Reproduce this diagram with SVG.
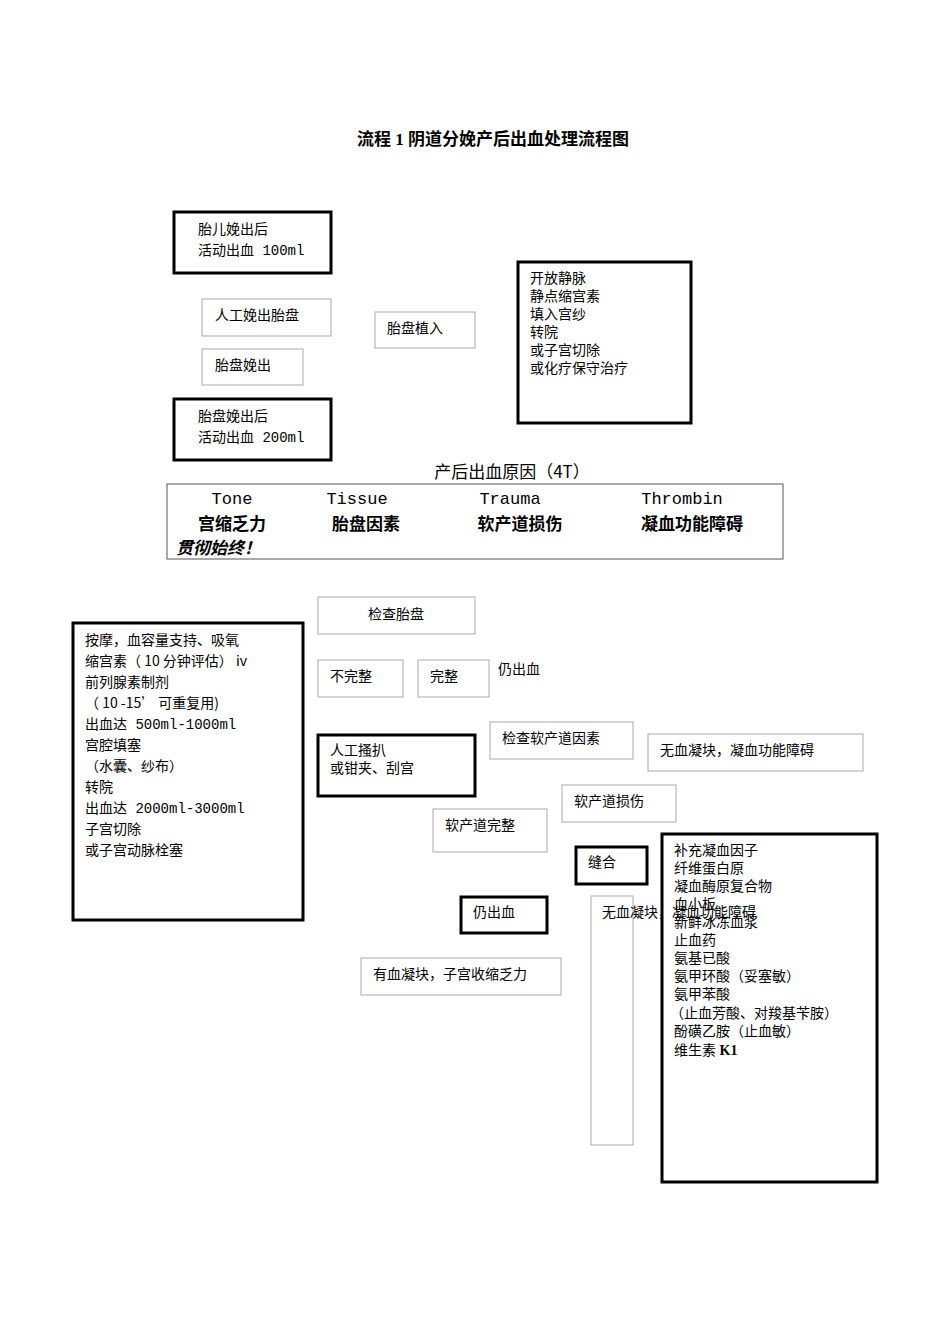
<svg xmlns="http://www.w3.org/2000/svg" width="950" height="1344" viewBox="0 0 950 1344">
<style>
text{font-family:"Liberation Serif","Noto Sans CJK SC",serif;font-size:14px;fill:#000}
.m{font-family:"Liberation Mono","Noto Sans CJK SC",monospace;font-size:14px}
.s{font-family:"Noto Sans CJK SC",sans-serif;font-size:14px}
.b{font-family:"Noto Sans CJK SC",sans-serif;font-size:17px;font-weight:bold}
.t{fill:#fff;stroke:#aaa;stroke-width:1}
.k{fill:#fff;stroke:#000;stroke-width:3}
</style>
<rect width="950" height="1344" fill="#fff"/>
<text x="493" y="145" text-anchor="middle" style="font-size:17px;font-weight:bold">流程 1 阴道分娩产后出血处理流程图</text>
<g id="connectors"></g>
<g id="n1"><rect class="k" x="174" y="212" width="157" height="61"/><text x="198" y="234">胎儿娩出后</text><text x="198" y="255" class="m">活动出血 100ml</text></g>
<g id="n2"><rect class="t" x="202" y="299" width="129" height="37"/><text x="215" y="320">人工娩出胎盘</text></g>
<g id="n3"><rect class="t" x="202" y="349" width="101" height="36"/><text x="215" y="370">胎盘娩出</text></g>
<g id="n4"><rect class="k" x="174" y="399" width="157" height="61"/><text x="198" y="421">胎盘娩出后</text><text x="198" y="442" class="m">活动出血 200ml</text></g>
<g id="n5"><rect class="t" x="375" y="312" width="100" height="36"/><text x="387" y="333">胎盘植入</text></g>
<g id="n6"><rect class="k" x="518" y="262" width="173" height="161"/>
<text x="530" y="283">开放静脉</text><text x="530" y="301">静点缩宫素</text><text x="530" y="319">填入宫纱</text><text x="530" y="337">转院</text><text x="530" y="355">或子宫切除</text><text x="530" y="373">或化疗保守治疗</text></g>
<g id="n7"><text x="512" y="478" text-anchor="middle" class="s" style="font-size:17px">产后出血原因（4T）</text>
<rect x="167" y="484" width="616" height="75" fill="#fff" stroke="#555"/>
<text x="232" y="504" text-anchor="middle" class="m" style="font-size:17px">Tone</text><text x="357" y="504" text-anchor="middle" class="m" style="font-size:17px">Tissue</text><text x="510" y="504" text-anchor="middle" class="m" style="font-size:17px">Trauma</text><text x="682" y="504" text-anchor="middle" class="m" style="font-size:17px">Thrombin</text>
<text x="232" y="530" text-anchor="middle" class="b">宫缩乏力</text><text x="366" y="530" text-anchor="middle" class="b">胎盘因素</text><text x="520" y="530" text-anchor="middle" class="b">软产道损伤</text><text x="692" y="530" text-anchor="middle" class="b">凝血功能障碍</text>
<text x="176" y="554" class="b" style="font-style:italic">贯彻始终！</text></g>
<g id="n8"><rect class="k" x="73" y="623" width="230" height="297"/>
<text x="85" y="645" class="s">按摩，血容量支持、吸氧</text><text x="85" y="666" class="s">缩宫素（ 10 分钟评估）  iv</text><text x="85" y="687" class="s">前列腺素制剂</text><text x="85" y="708" class="s"> （ 10 -15’ 可重复用)</text><text x="85" y="729" class="m">出血达 500ml-1000ml</text><text x="85" y="750" class="s">宫腔填塞</text><text x="85" y="771" class="s"> （水囊、纱布）</text><text x="85" y="792" class="s">转院</text><text x="85" y="813" class="m">  出血达 2000ml-3000ml</text><text x="85" y="834" class="s">子宫切除</text><text x="85" y="855" class="s">或子宫动脉栓塞</text></g>
<g id="n9"><rect class="t" x="318" y="597" width="157" height="37"/><text x="396" y="619" text-anchor="middle">检查胎盘</text></g>
<g id="n10"><rect class="t" x="318" y="660" width="85" height="37"/><text x="330" y="681">不完整</text></g>
<g id="n11"><rect class="t" x="418" y="660" width="71" height="37"/><text x="430" y="681">完整</text></g>
<text x="498" y="674">仍出血</text>
<g id="n12"><rect class="k" x="318" y="735" width="157" height="61"/><text x="330" y="755">人工搔扒</text><text x="330" y="773">或钳夹、刮宫</text></g>
<g id="n13"><rect class="t" x="490" y="722" width="143" height="37"/><text x="502" y="743">检查软产道因素</text></g>
<g id="n14"><rect class="t" x="648" y="734" width="215" height="37"/><text x="660" y="755">无血凝块，凝血功能障碍</text></g>
<g id="n15"><rect class="t" x="562" y="785" width="114" height="37"/><text x="574" y="806">软产道损伤</text></g>
<g id="n16"><rect class="t" x="433" y="809" width="114" height="43"/><text x="445" y="830">软产道完整</text></g>
<g id="n17"><rect class="k" x="576" y="847" width="71" height="37"/><text x="588" y="867">缝合</text></g>
<g id="n18"><rect class="k" x="461" y="897" width="86" height="36"/><text x="473" y="917">仍出血</text></g>
<g id="n19"><rect class="t" x="591" y="896" width="42" height="249"/></g>
<g id="n20"><rect class="k" x="662" y="834" width="215" height="348"/>
<text x="674" y="855">补充凝血因子</text><text x="674" y="873">纤维蛋白原</text><text x="674" y="891">凝血酶原复合物</text><text x="674" y="909">血小板</text><text x="674" y="927">新鲜冰冻血浆</text><text x="674" y="945">止血药</text><text x="674" y="963">氨基已酸</text><text x="674" y="981">氨甲环酸（妥塞敏）</text><text x="674" y="999">氨甲苯酸</text><text x="670" y="1018">（止血芳酸、对羧基苄胺）</text><text x="674" y="1036">酚磺乙胺（止血敏）</text><text x="674" y="1055">维生素 <tspan font-weight="bold">K1</tspan></text></g>
<text x="602" y="917">无血凝块，凝血功能障碍</text>
<g id="n21"><rect class="t" x="361" y="958" width="200" height="37"/><text x="373" y="979">有血凝块，子宫收缩乏力</text></g>
</svg>
